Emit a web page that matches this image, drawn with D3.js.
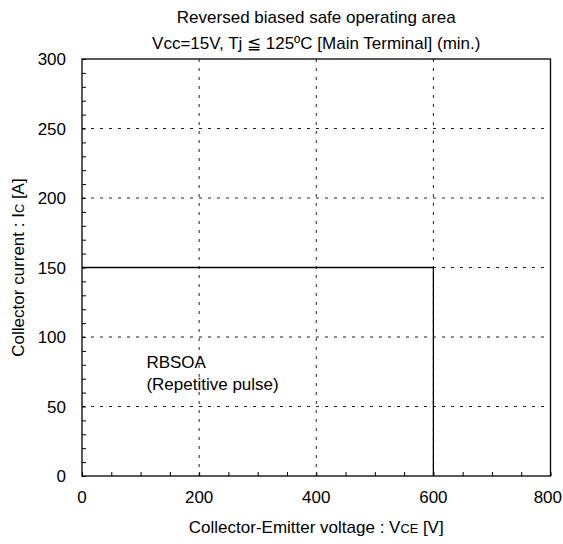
<!DOCTYPE html>
<html><head><meta charset="utf-8">
<script src="https://cdn.jsdelivr.net/npm/d3@7"></script>
<style>body{margin:0;background:#fff}svg{display:block}text{font-family:"Liberation Sans",Arial,sans-serif;fill:#000}</style>
</head><body><svg id="c" width="563" height="544"></svg>
<script>
const titleLines = ["Reversed biased safe operating area", "Vcc=15V, Tj \u2266 125\u00baC [Main Terminal] (min.)"];
const xTicks = [0, 200, 400, 600, 800];
const yTicks = [0, 50, 100, 150, 200, 250, 300];
const curveV = [0, 600, 600];
const curveI = [150, 150, 0];
const noteLines = ["RBSOA", "(Repetitive pulse)"];
const notePos = [110, 78];

const W = 563, H = 544;
const m = {l: 82, r: 550.5, t: 59, b: 476};
const svg = d3.select("#c");
const x = d3.scaleLinear().domain([0, 800]).range([m.l, m.r]);
const y = d3.scaleLinear().domain([0, 300]).range([m.b, m.t]);
const fs = 17;

// grid
const g = svg.append("g");
g.selectAll(".gx").data(xTicks.slice(1, -1)).join("line")
  .attr("x1", d => x(d)).attr("x2", d => x(d)).attr("y1", m.t).attr("y2", m.b)
  .attr("stroke", "#222").attr("stroke-width", 1).attr("stroke-dasharray", "3,6");
g.selectAll(".gy").data(yTicks.slice(1, -1)).join("line")
  .attr("y1", d => y(d)).attr("y2", d => y(d)).attr("x1", m.l).attr("x2", m.r)
  .attr("stroke", "#222").attr("stroke-width", 1).attr("stroke-dasharray", "3,6");

// frame
svg.append("rect").attr("x", m.l).attr("y", m.t).attr("width", m.r - m.l).attr("height", m.b - m.t)
  .attr("fill", "none").attr("stroke", "#000").attr("stroke-width", 1.3);

// axes with inner minor ticks
const xAxis = d3.axisBottom(x).tickValues(d3.range(0, 801, 50)).tickSize(-4).tickFormat("");
svg.append("g").attr("transform", `translate(0,${m.b})`).call(xAxis)
  .call(s => s.select(".domain").remove())
  .call(s => s.selectAll("line").attr("stroke", "#000"));
const yAxis = d3.axisLeft(y).tickValues(d3.range(0, 301, 10)).tickSize(-4).tickFormat("");
svg.append("g").attr("transform", `translate(${m.l},0)`).call(yAxis)
  .call(s => s.select(".domain").remove())
  .call(s => s.selectAll("line").attr("stroke", "#000"));

// tick labels
svg.selectAll(".xl").data(xTicks).join("text")
  .attr("x", (d, i) => i === xTicks.length - 1 ? W - 1 : x(d)).attr("y", m.b + 27)
  .attr("text-anchor", (d, i) => i === xTicks.length - 1 ? "end" : "middle")
  .attr("font-size", fs).text(d => d);
svg.selectAll(".yl").data(yTicks).join("text")
  .attr("x", m.l - 16).attr("y", d => y(d) + 6).attr("text-anchor", "end")
  .attr("font-size", fs).text(d => d);

// curve
const line = d3.line().x(d => x(d[0])).y(d => y(d[1]));
svg.append("path").datum(curveV.map((v, i) => [v, curveI[i]]))
  .attr("d", line).attr("fill", "none").attr("stroke", "#000").attr("stroke-width", 1.3);

// title
svg.selectAll(".tt").data(titleLines).join("text")
  .attr("x", (m.l + m.r) / 2).attr("y", (d, i) => 23 + i * 26).attr("text-anchor", "middle")
  .attr("font-size", fs).text(d => d);

// axis titles
const xt = svg.append("text").attr("x", (m.l + m.r) / 2).attr("y", 533).attr("text-anchor", "middle").attr("font-size", fs);
xt.append("tspan").text("Collector-Emitter voltage : V");
xt.append("tspan").attr("font-size", fs * 0.75).text("CE");
xt.append("tspan").text(" [V]");
const yt = svg.append("text").attr("transform", `translate(24,${(m.t + m.b) / 2}) rotate(-90)`).attr("text-anchor", "middle").attr("font-size", fs);
yt.append("tspan").text("Collector current : I");
yt.append("tspan").attr("font-size", fs * 0.75).text("C");
yt.append("tspan").text(" [A]");

// note
svg.selectAll(".nt").data(noteLines).join("text")
  .attr("x", x(notePos[0])).attr("y", (d, i) => y(notePos[1]) + i * 22)
  .attr("font-size", fs).text(d => d);
</script></body></html>
